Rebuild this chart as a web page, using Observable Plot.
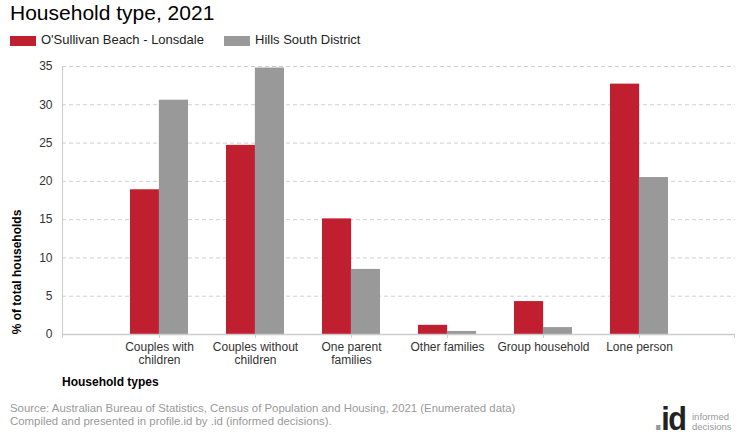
<!DOCTYPE html>
<html>
<head>
<meta charset="utf-8">
<script src="https://cdn.jsdelivr.net/npm/d3@7"></script>
<script src="https://cdn.jsdelivr.net/npm/@observablehq/plot@0.6"></script>
<style>
  html, body { margin: 0; padding: 0; background: #fff; }
  body { width: 740px; height: 440px; position: relative; overflow: hidden; font-family: "Liberation Sans", Arial, sans-serif; }
  .abs { position: absolute; white-space: nowrap; }
  #title { left: 10px; top: 0px; font-size: 21px; line-height: 26px; color: #000; }
  .swatch { position: absolute; width: 26px; height: 10px; top: 36px; }
  .legtext { position: absolute; top: 32px; font-size: 13px; line-height: 16px; color: #222; }
  #chart { position: absolute; left: 0; top: 50px; }
  #ylabel { left: 17px; top: 272px; font-size: 12px; font-weight: bold; color: #000; transform: translate(-50%, -50%) rotate(-90deg); }
  #xlabel { left: 62px; top: 375px; font-size: 12px; font-weight: bold; color: #000; }
  #source { left: 10px; top: 402px; font-size: 11.4px; line-height: 13px; color: #999; }
  #logo { left: 654px; top: 401px; font-size: 34px; font-weight: bold; color: #222; letter-spacing: -1.5px; line-height: 34px; transform: scaleX(0.9); transform-origin: left top; }
  #logo .dot { color: #999; }
  #logo2 { left: 692px; top: 412px; font-size: 9.5px; line-height: 10px; color: #999; }
</style>
</head>
<body>
<div id="title" class="abs">Household type, 2021</div>
<div id="legend"></div>
<div id="chart"></div>
<div id="ylabel" class="abs">% of total households</div>
<div id="xlabel" class="abs">Household types</div>
<div id="source" class="abs">Source: Australian Bureau of Statistics, Census of Population and Housing, 2021 (Enumerated data)<br>Compiled and presented in profile.id by .id (informed decisions).</div>
<div id="logo" class="abs"><span class="dot">.</span>id</div>
<div id="logo2" class="abs">informed<br>decisions</div>
<script>
// ---- data ----
const categories = ["Couples with children", "Couples without children", "One parent families", "Other families", "Group household", "Lone person"];
const tickLabels = ["Couples with\nchildren", "Couples without\nchildren", "One parent\nfamilies", "Other families", "Group household", "Lone person"];
const seriesNames = ["O'Sullivan Beach - Lonsdale", "Hills South District"];
const seriesColors = ["#c01f2f", "#999999"];
const areaValues = [18.9, 24.7, 15.1, 1.2, 4.3, 32.7];
const districtValues = [30.6, 34.8, 8.5, 0.4, 0.9, 20.5];
const yTicks = [0, 5, 10, 15, 20, 25, 30, 35];

// legend
const legend = document.getElementById("legend");
const legendX = [10, 224];
seriesNames.forEach((name, i) => {
  const sw = document.createElement("div");
  sw.className = "swatch";
  sw.style.left = legendX[i] + "px";
  sw.style.background = seriesColors[i];
  legend.appendChild(sw);
  const t = document.createElement("div");
  t.className = "legtext";
  t.style.left = (legendX[i] + 31) + "px";
  t.textContent = name;
  legend.appendChild(t);
});

const rowsA = categories.map((c, i) => ({category: c, value: areaValues[i], series: seriesNames[0]}));
const rowsB = categories.map((c, i) => ({category: c, value: districtValues[i], series: seriesNames[1]}));
const labelOf = new Map(categories.map((c, i) => [c, tickLabels[i]]));

const frameLines = (index, scales, values, dimensions) => {
  const {width, height, marginLeft, marginRight, marginTop, marginBottom} = dimensions;
  const g = d3.create("svg:g").attr("stroke", "#cccccc").attr("fill", "none");
  const bottom = height - marginBottom;
  g.append("line").attr("x1", marginLeft + 0.5).attr("x2", marginLeft + 0.5).attr("y1", marginTop).attr("y2", bottom);
  g.append("line").attr("x1", marginLeft + 0.5).attr("x2", marginLeft + 0.5).attr("y1", bottom).attr("y2", bottom + 4);
  g.append("line").attr("x1", width - marginRight - 0.5).attr("x2", width - marginRight - 0.5).attr("y1", bottom).attr("y2", bottom + 4);
  return g.node();
};

const chart = Plot.plot({
  width: 740,
  height: 345,
  marginTop: 16,
  marginLeft: 62,
  marginRight: 5,
  marginBottom: 61,
  style: {fontFamily: "Liberation Sans, Arial, sans-serif", fontSize: "12px", background: "transparent"},
  x: {domain: categories, paddingInner: 0.4, paddingOuter: 0.7, label: null},
  y: {domain: [0, 35], label: null},
  marks: [
    Plot.gridY(yTicks.filter(d => d > 0), {stroke: "#d0d0d0", strokeOpacity: 1, strokeDasharray: "4,3"}),
    Plot.barY(rowsA, {x: "category", y: "value", fill: seriesColors[0], insetRight: 28.85, insetLeft: 0}),
    Plot.barY(rowsB, {x: "category", y: "value", fill: seriesColors[1], insetLeft: 28.85, insetRight: 0}),
    Plot.ruleY([0], {stroke: "#cccccc", strokeWidth: 1.5}),
    frameLines,
    Plot.axisY({ticks: yTicks, tickSize: 0, tickPadding: 10, fill: "#333", fontSize: 12, label: null}),
    Plot.axisX({tickSize: 4, tickPadding: 3, stroke: "#cccccc", fill: "#333", fontSize: 12, lineHeight: 1.1, tickFormat: d => labelOf.get(d), label: null})
  ]
});
document.getElementById("chart").appendChild(chart);
</script>
</body>
</html>
